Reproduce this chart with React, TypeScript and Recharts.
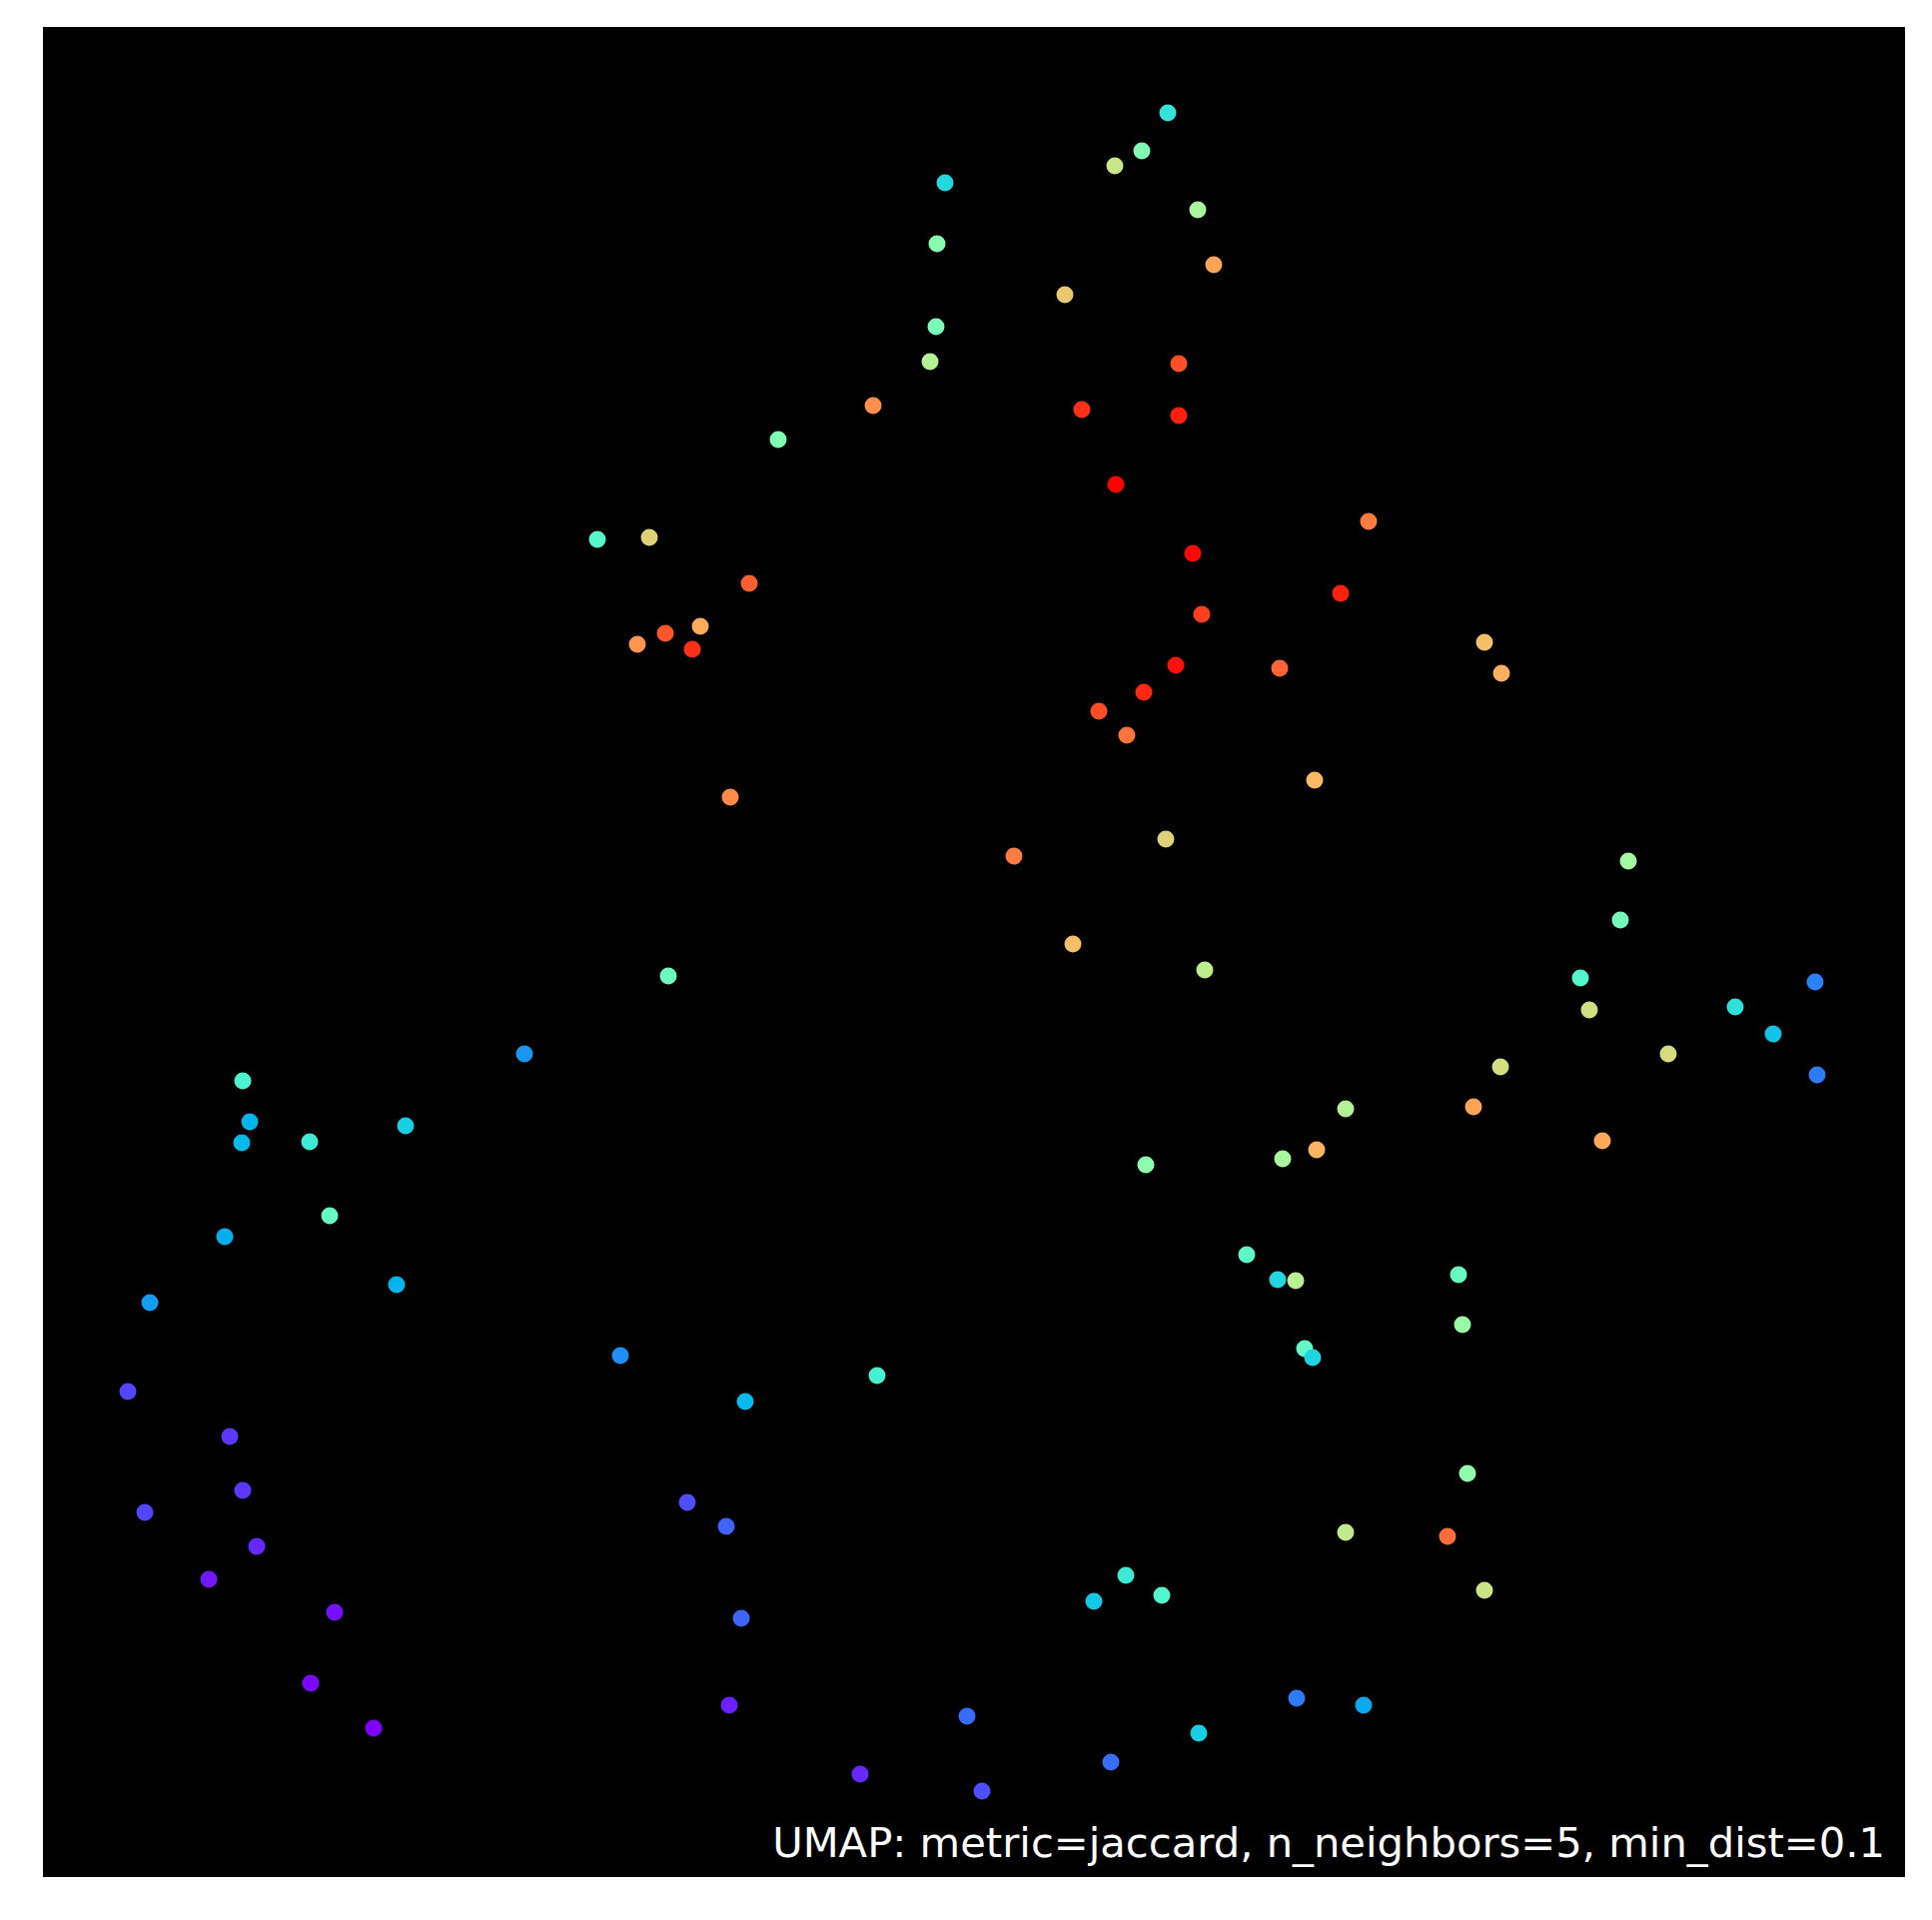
import React from 'react';
import { ScatterChart, Scatter, XAxis, YAxis, CartesianGrid, ReferenceArea } from 'recharts';

// UMAP embedding coordinates (arbitrary units)
const umapX = [
  112.6, 110.0, 107.3, 90.3, 115.6, 89.5, 117.2, 102.3, 89.4, 88.8,
  113.7, 83.1, 104.0, 113.7, 73.6, 107.4, 132.7, 55.5, 60.7, 115.1,
  70.7, 129.9, 116.0, 65.8, 62.3, 59.5, 65.0, 144.3, 113.4, 123.8,
  146.0, 110.2, 105.7, 108.5, 127.3, 68.8, 112.4, 97.2, 158.7, 157.9,
  103.1, 116.3, 62.6, 153.9, 177.4, 169.4, 154.8, 173.2, 48.2, 162.7,
  145.9, 177.6, 20.0, 130.4, 143.2, 20.7, 36.3, 19.9, 26.7, 156.1,
  127.5, 124.1, 110.4, 28.7, 18.2, 120.5, 123.6, 125.4, 141.7, 35.4,
  10.7, 142.1, 126.3, 127.1, 57.8, 83.5, 8.5, 70.3, 18.7, 142.6,
  20.0, 64.5, 10.2, 68.4, 130.4, 140.6, 21.4, 108.4, 16.6, 144.3,
  112.0, 105.2, 29.2, 69.9, 26.8, 125.5, 68.7, 132.2, 92.5, 33.1,
  115.7, 106.9, 81.8, 94.0,
];
const umapY = [
  176.6, 172.8, 171.3, 169.6, 166.9, 163.5, 161.4, 158.4, 155.2, 151.7,
  151.5, 147.3, 146.9, 146.3, 143.9, 139.4, 135.7, 133.9, 134.1, 132.5,
  129.5, 128.5, 126.4, 125.2, 124.5, 123.4, 122.9, 123.6, 121.3, 121.0,
  120.5, 118.6, 116.7, 114.3, 109.8, 108.1, 103.9, 102.2, 101.7, 95.8,
  93.4, 90.8, 90.2, 90.0, 89.6, 87.1, 86.8, 84.4, 82.4, 82.4,
  81.1, 80.3, 79.7, 76.9, 77.1, 75.6, 75.2, 73.5, 73.6, 73.7,
  72.8, 71.9, 71.3, 66.2, 64.1, 62.3, 59.8, 59.7, 60.3, 59.3,
  57.5, 55.3, 52.9, 52.0, 52.2, 50.2, 48.6, 47.6, 44.1, 40.4,
  38.7, 37.5, 36.5, 35.1, 34.5, 34.1, 33.1, 30.2, 29.8, 28.7,
  28.2, 27.6, 26.5, 25.9, 19.4, 17.9, 17.2, 17.2, 16.1, 14.9,
  14.4, 11.5, 10.3, 8.6,
];
// label value of each point, mapped through the "rainbow" colormap
const labelValue = [
  0.35, 0.50, 0.64, 0.32, 0.58, 0.52, 0.78, 0.71, 0.49, 0.60,
  0.90, 0.81, 0.94, 0.96, 0.50, 1.00, 0.84, 0.42, 0.69, 0.99,
  0.88, 0.96, 0.92, 0.77, 0.89, 0.80, 0.94, 0.73, 0.98, 0.87,
  0.76, 0.95, 0.90, 0.85, 0.74, 0.82, 0.69, 0.84, 0.57, 0.48,
  0.73, 0.62, 0.46, 0.41, 0.17, 0.34, 0.66, 0.28, 0.20, 0.67,
  0.66, 0.16, 0.40, 0.60, 0.78, 0.25, 0.30, 0.26, 0.37, 0.77,
  0.75, 0.58, 0.53, 0.45, 0.24, 0.43, 0.32, 0.61, 0.45, 0.25,
  0.21, 0.55, 0.44, 0.31, 0.19, 0.39, 0.09, 0.26, 0.07, 0.53,
  0.07, 0.10, 0.09, 0.13, 0.63, 0.86, 0.05, 0.37, 0.03, 0.65,
  0.41, 0.29, 0.02, 0.13, 0.01, 0.16, 0.04, 0.23, 0.14, 0.00,
  0.30, 0.14, 0.05, 0.10,
];

const xDomain = [0, 186.4];
const yDomain = [0, 185.2];
const caption = 'UMAP: metric=jaccard, n_neighbors=5, min_dist=0.1';

const data = umapX.map((x, i) => ({ x, y: umapY[i], t: labelValue[i] }));

const clamp = (v: number) => Math.max(0, Math.min(1, v));
const rainbow = (t: number) => {
  const r = clamp(Math.abs(2 * t - 0.5));
  const g = clamp(Math.sin(Math.PI * t));
  const b = clamp(Math.cos((Math.PI * t) / 2));
  const h = (v: number) => Math.round(v * 255).toString(16).padStart(2, '0');
  return `#${h(r)}${h(g)}${h(b)}`;
};

const Dot = (props: any) => {
  const { cx, cy, payload } = props;
  if (cx == null || cy == null) return null;
  return <circle cx={cx} cy={cy} r={8.5} fill={rainbow(payload.t)} />;
};

export default function App() {
  return (
    <div style={{ width: 1918, height: 1906 }}>
      <ScatterChart
        width={1918}
        height={1906}
        margin={{ top: 19, left: 35, right: 19, bottom: 35 }}
      >
        <CartesianGrid fill="#000000" horizontal={false} vertical={false} stroke="none" />
        <XAxis type="number" dataKey="x" domain={xDomain} allowDataOverflow hide />
        <YAxis type="number" dataKey="y" domain={yDomain} allowDataOverflow hide />
        <Scatter data={data} shape={Dot} isAnimationActive={false} />
        <ReferenceArea
          x1={xDomain[0]}
          x2={xDomain[1]}
          y1={yDomain[0]}
          y2={yDomain[1]}
          fill="none"
          fillOpacity={0}
          stroke="none"
          label={{
            value: caption,
            position: 'insideBottomRight',
            offset: 20,
            fill: '#ffffff',
            fontSize: 41.7,
            fontFamily: 'DejaVu Sans',
          }}
        />
      </ScatterChart>
    </div>
  );
}
